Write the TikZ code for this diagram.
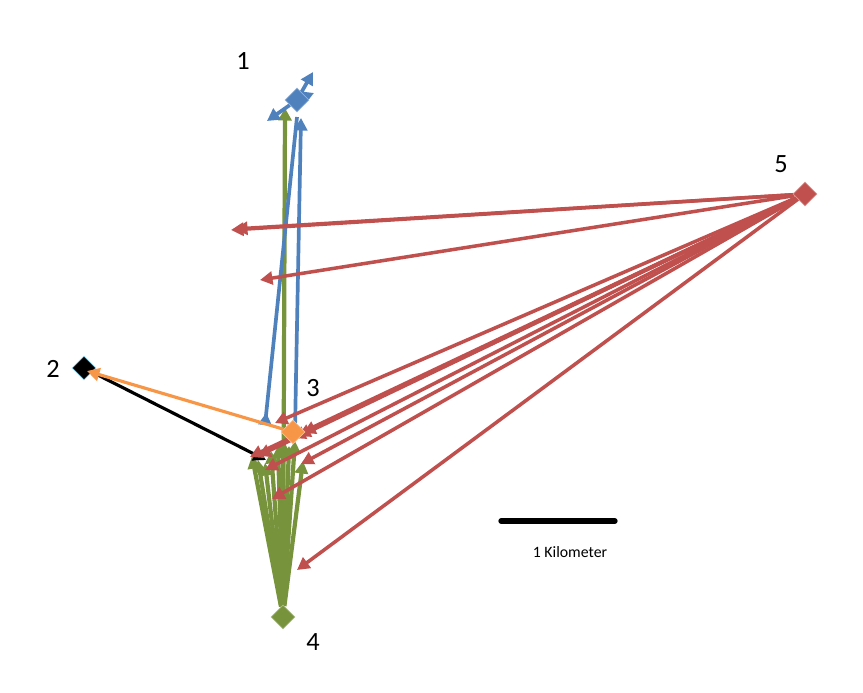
\documentclass[tikz,border=0pt]{standalone}
\usepackage{fontspec}
\setmainfont{Carlito}
\usetikzlibrary{shapes.geometric,arrows.meta}
\definecolor{xlblue}{HTML}{4F81BD}
\definecolor{xlred}{HTML}{C0504D}
\definecolor{xlgreen}{HTML}{77933C}
\definecolor{xlorange}{HTML}{F79646}
\pgfdeclarelayer{background}
\pgfsetlayers{background,main}
\begin{document}
\begin{tikzpicture}[x=0.02cm,y=-0.02cm,
  site/.style={diamond,inner sep=0pt,minimum width=4.8mm,minimum height=4.8mm},
  flow/.style={line width=1.8pt,-{Triangle[length=2.5mm,width=2.6mm]}},
  bflow/.style={flow,xlblue,line width=2.1pt},
  rflow/.style={flow,xlred,line width=2pt},
  gflow/.style={flow,xlgreen,line width=2.4pt},
  num/.style={font=\fontsize{15}{18}\selectfont}]
\useasboundingbox (0,0) rectangle (863,693);
% sites
\node[site,fill=xlblue,draw=xlblue!60!white] (n1) at (297,100) {};
\node[site,fill=black,draw=cyan!40!white] (n2) at (84,368) {};
\node[site,fill=xlorange,draw=xlorange!60!white] (n3) at (293,432) {};
\node[site,fill=xlgreen,draw=xlgreen!60!white] (n4) at (283,617) {};
\node[site,fill=xlred,draw=xlred!60!white] (n5) at (805,194) {};
\node[num] (l1) at (243,61) {1};
\node[num] (l2) at (53,369) {2};
\node[num] (l3) at (313,388) {3};
\node[num] (l4) at (313,642) {4};
\node[num] (l5) at (781,164) {5};
% flow ends
\coordinate (b1) at (313,72); \coordinate (b2) at (314,93); \coordinate (b3) at (267,121);
\coordinate (b4) at (297,117); \coordinate (b5) at (301,118);
\coordinate (b6) at (265,425); \coordinate (b7) at (295,430);
\coordinate (r1) at (231,230); \coordinate (r1b) at (235,229); \coordinate (r2) at (260,280);
\coordinate (r3) at (275,423); \coordinate (r4) at (250,457); \coordinate (r5) at (258,456);
\coordinate (r6) at (265,470); \coordinate (r7) at (293,438); \coordinate (r8) at (298,436);
\coordinate (r9) at (303,433); \coordinate (r10) at (301,464); \coordinate (r11) at (272,499);
\coordinate (r12) at (297,570);
\coordinate (g0) at (285,108); \coordinate (g1) at (252,456); \coordinate (g2) at (258,460);
\coordinate (g3) at (265,463); \coordinate (g4) at (271,451); \coordinate (g5) at (278,446);
\coordinate (g6) at (283,440); \coordinate (g7) at (289,446); \coordinate (g8) at (295,441);
\coordinate (g9) at (303,461);
\coordinate (o2) at (87,371); \coordinate (k3) at (266,460);
\begin{pgfonlayer}{background}
% green
\path (n4) edge[gflow] (g0); \path (n4) edge[gflow] (g1); \path (n4) edge[gflow] (g2);
\path (n4) edge[gflow] (g3); \path (n4) edge[gflow] (g4); \path (n4) edge[gflow] (g5);
\path (n4) edge[gflow] (g6); \path (n4) edge[gflow] (g7); \path (n4) edge[gflow] (g8);
\path (n4) edge[gflow] (g9);
% blue
\path (n1) edge[bflow] (b1); \path (n1) edge[bflow] (b2); \path (n1) edge[bflow] (b3);
\path (b6) edge[bflow,{Triangle[reversed,length=2.5mm,width=2.6mm]}-] (b4);
\path (b7) edge[bflow] (b5);
% black
\path (n2) edge[flow,black] (k3);
% red
\path (n5) edge[rflow] (r1); \path (n5) edge[rflow] (r1b); \path (n5) edge[rflow] (r2);
\path (n5) edge[rflow] (r3); \path (n5) edge[rflow] (r4); \path (n5) edge[rflow] (r5);
\path (n5) edge[rflow] (r6); \path (n5) edge[rflow] (r7); \path (n5) edge[rflow] (r8);
\path (n5) edge[rflow] (r9); \path (n5) edge[rflow] (r10); \path (n5) edge[rflow] (r11);
\path (n5) edge[rflow] (r12);
\end{pgfonlayer}
% orange
\path (n3) edge[flow,xlorange] (o2);
% scale bar
\coordinate (s1) at (501,521); \coordinate (s2) at (615,521);
\draw[line width=3pt,line cap=round] (s1) -- (s2);
\node[font=\fontsize{9}{11}\selectfont] (km) at (570,552) {1 Kilometer};
\end{tikzpicture}
\end{document}
